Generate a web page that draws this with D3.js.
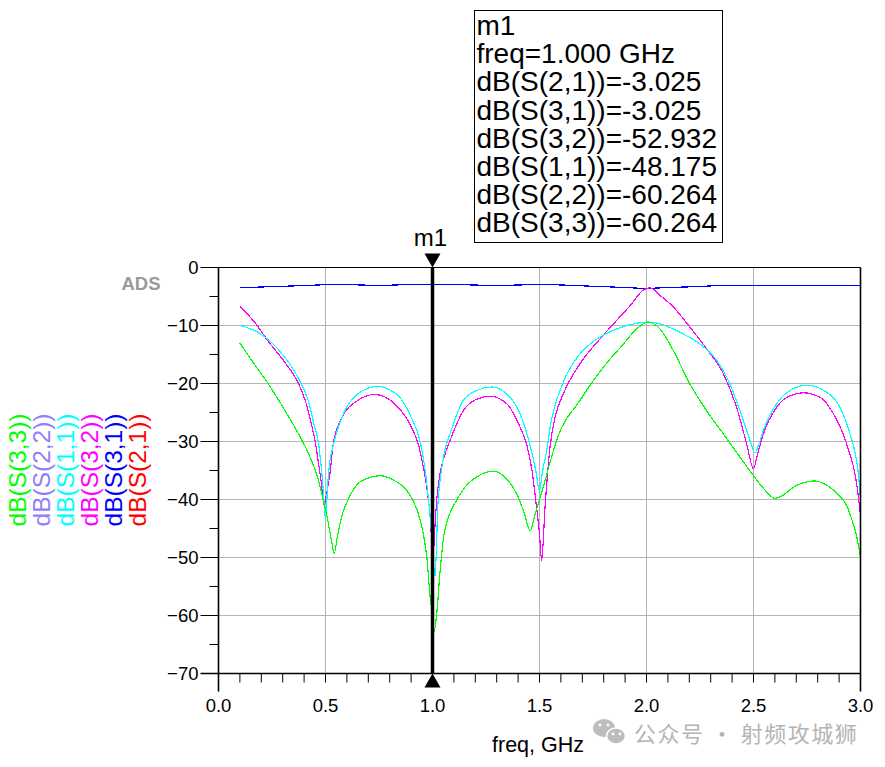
<!DOCTYPE html>
<html><head><meta charset="utf-8">
<script src="https://cdn.jsdelivr.net/npm/d3@7"></script>
<style>html,body{margin:0;padding:0;background:#fff;} svg{display:block;}</style>
</head><body>
<svg id="chart" width="885" height="767"></svg>
<script>
// ---------------- data ----------------
const s11Freq = [0.10,0.18,0.25,0.31,0.37,0.42,0.45,0.466,0.48,0.49,0.50,0.51,0.52,0.534,0.544,0.59,0.65,0.70,0.745,0.80,0.84,0.90,0.942,0.96,0.98,0.99,1.00,1.012,1.025,1.04,1.058,1.082,1.144,1.207,1.277,1.347,1.409,1.44,1.468,1.485,1.499,1.515,1.534,1.55,1.611,1.689,1.783,1.861,1.954,2.008,2.063,2.157,2.25,2.328,2.39,2.437,2.484,2.507,2.525,2.546,2.608,2.671,2.749,2.842,2.904,2.951,2.975,2.99,3.0];
const s11dB   = [-10.0,-11.1,-13.0,-15.5,-18.9,-23.0,-27.6,-30.0,-34.4,-38.5,-43.5,-37.5,-33.5,-31.0,-29.5,-24.7,-21.8,-20.8,-20.5,-21.1,-22.1,-25.8,-30.0,-33.5,-39.5,-43.5,-48.2,-53.3,-41.0,-35.5,-31.5,-28.7,-22.9,-21.2,-20.6,-21.8,-25.2,-28.5,-32.5,-35.5,-38.5,-35.0,-31.5,-27.5,-19.8,-14.9,-12.0,-10.6,-9.6,-9.4,-9.7,-11.2,-13.2,-16.0,-20.1,-24.7,-29.8,-32.0,-30.5,-28.1,-23.5,-21.2,-20.3,-21.5,-24.1,-28.7,-32.0,-35.6,-40.1];

const s32Freq = [0.10,0.17,0.232,0.309,0.371,0.41,0.434,0.451,0.465,0.48,0.493,0.505,0.521,0.536,0.574,0.652,0.73,0.823,0.901,0.934,0.948,0.965,0.979,0.995,1.00,1.008,1.02,1.035,1.06,1.082,1.144,1.207,1.27,1.347,1.409,1.44,1.465,1.485,1.50,1.51,1.526,1.549,1.575,1.611,1.689,1.783,1.861,1.923,1.985,2.016,2.063,2.125,2.203,2.281,2.359,2.421,2.468,2.50,2.52,2.546,2.608,2.671,2.733,2.811,2.873,2.935,2.982,3.0];
const s32dB   = [-6.7,-9.5,-12.7,-16.3,-19.8,-23.5,-27.0,-29.8,-33.2,-37.0,-41.0,-39.0,-35.5,-30.5,-26.1,-22.9,-21.9,-23.5,-27.5,-30.5,-32.7,-36.0,-39.6,-46.7,-52.9,-47.0,-40.0,-35.6,-32.0,-29.8,-24.7,-22.7,-22.2,-23.5,-27.5,-30.5,-35.0,-41.0,-46.0,-50.5,-41.3,-31.0,-25.5,-21.8,-16.6,-12.3,-9.1,-6.6,-3.9,-3.5,-4.8,-6.8,-10.3,-14.0,-18.3,-24.1,-30.4,-34.7,-32.0,-28.7,-24.1,-22.1,-21.6,-22.4,-25.2,-30.4,-37.3,-42.7];

const s33Freq = [0.10,0.155,0.233,0.311,0.374,0.421,0.467,0.49,0.51,0.53,0.541,0.555,0.575,0.60,0.646,0.70,0.755,0.82,0.879,0.93,0.957,0.975,0.988,1.00,1.006,1.02,1.035,1.05,1.08,1.113,1.16,1.207,1.284,1.34,1.393,1.43,1.456,1.48,1.518,1.55,1.58,1.689,1.798,1.892,1.954,2.008,2.063,2.125,2.203,2.281,2.359,2.437,2.50,2.562,2.60,2.64,2.686,2.787,2.857,2.90,2.935,2.96,2.98,3.0];
const s33dB   = [-13.05,-16.0,-20.1,-24.7,-28.7,-32.1,-36.7,-40.2,-43.5,-47.5,-49.3,-46.5,-43.0,-40.5,-37.5,-36.3,-35.9,-36.7,-38.4,-42.0,-45.9,-50.5,-56.5,-60.3,-63.0,-59.6,-52.5,-47.0,-42.5,-40.1,-37.5,-36.1,-35.1,-36.2,-39.0,-42.5,-45.4,-42.5,-37.8,-33.5,-29.8,-22.9,-17.2,-13.2,-10.6,-9.4,-10.6,-14.3,-20.1,-24.7,-28.7,-32.7,-35.9,-38.7,-39.8,-39.2,-37.9,-36.8,-37.9,-39.3,-41.0,-43.5,-46.0,-49.9];

const s31Freq = [0.10,0.165,0.27,0.41,0.53,0.65,0.75,0.84,1.00,1.17,1.30,1.42,1.50,1.59,1.66,1.78,1.90,2.00,2.10,2.25,2.35,3.00];
const s31dB   = [-3.45,-3.40,-3.28,-3.10,-2.95,-3.00,-3.10,-3.00,-2.95,-3.00,-3.10,-3.00,-2.95,-3.00,-3.10,-3.28,-3.45,-3.60,-3.45,-3.28,-3.10,-3.10];

// S21 equals S31 and S22 equals S33 (symmetric network) – drawn underneath
const s21Freq = s31Freq, s21dB = s31dB;
const s22Freq = s33Freq, s22dB = s33dB;

const legendLabels = ["dB(S(3,3))","dB(S(2,2))","dB(S(1,1))","dB(S(3,2))","dB(S(3,1))","dB(S(2,1))"];
const legendColors = ["#00ff00","#8c80ff","#00ffff","#ff00ff","#0000ff","#ff0000"];

const xMajorTicks = [0,0.5,1.0,1.5,2.0,2.5,3.0];
const xMinorTicks = d3.range(0,31).map(i=>i/10);
const yMajorTicks = [0,-10,-20,-30,-40,-50,-60,-70];
const yMinorTicks = [-5,-15,-25,-35,-45,-55,-65];

const markerFreq = 1.0;
const markerLines = ["m1","freq=1.000 GHz","dB(S(2,1))=-3.025","dB(S(3,1))=-3.025","dB(S(3,2))=-52.932","dB(S(1,1))=-48.175","dB(S(2,2))=-60.264","dB(S(3,3))=-60.264"];

// ---------------- chart ----------------
const svg = d3.select("#chart");
const FONT = "'Liberation Sans', Arial, sans-serif";
const x = d3.scaleLinear().domain([0,3]).range([218.5,860.5]);
const y = d3.scaleLinear().domain([-70,0]).range([673.5,267.5]);

// grid
const grid = svg.append("g").attr("stroke","#b4b4b4").attr("stroke-width",1).attr("shape-rendering","crispEdges");
xMajorTicks.slice(1,-1).forEach(v=>grid.append("line").attr("x1",x(v)).attr("x2",x(v)).attr("y1",y(0)).attr("y2",y(-70)));
yMajorTicks.slice(1,-1).forEach(v=>grid.append("line").attr("x1",x(0)).attr("x2",x(3)).attr("y1",y(v)).attr("y2",y(v)));

// series
const defs = svg.append("defs");
defs.append("clipPath").attr("id","plotclip").append("rect")
  .attr("x",x(0)).attr("y",y(0)).attr("width",x(3)-x(0)).attr("height",y(-70)-y(0));
const line = d3.line().x(d=>x(d[0])).y(d=>y(d[1])).curve(d3.curveMonotoneX);
const series = [
  {f:s21Freq,v:s21dB,c:"#ff0000"},
  {f:s31Freq,v:s31dB,c:"#0000ff"},
  {f:s32Freq,v:s32dB,c:"#ff00ff"},
  {f:s11Freq,v:s11dB,c:"#00ffff"},
  {f:s22Freq,v:s22dB,c:"#8c80ff"},
  {f:s33Freq,v:s33dB,c:"#00ff00"}
];
const plot = svg.append("g").attr("clip-path","url(#plotclip)");
series.forEach(s=>{
  plot.append("path").datum(s.f.map((f,i)=>[f,s.v[i]]))
    .attr("d",line).attr("fill","none").attr("stroke",s.c).attr("stroke-width",1.2)
    .attr("shape-rendering","crispEdges");
});

// frame & ticks
const ax = svg.append("g").attr("stroke","#000").attr("stroke-width",1);
ax.append("line").attr("x1",x(0)-18).attr("x2",x(3)).attr("y1",y(0)).attr("y2",y(0));
ax.append("line").attr("x1",x(0)-18).attr("x2",x(3)).attr("y1",y(-70)).attr("y2",y(-70)).attr("stroke-width",1.3);
ax.append("line").attr("x1",x(0)).attr("x2",x(0)).attr("y1",y(0)).attr("y2",y(-70)+18).attr("stroke-width",1.6);
ax.append("line").attr("x1",x(3)).attr("x2",x(3)).attr("y1",y(0)).attr("y2",y(-70)+18).attr("stroke-width",1.6);
xMinorTicks.slice(1,-1).forEach(v=>ax.append("line").attr("x1",x(v)).attr("x2",x(v)).attr("y1",y(-70)).attr("y2",y(-70)+9));
yMajorTicks.slice(1,-1).forEach(v=>ax.append("line").attr("x1",x(0)-18).attr("x2",x(0)).attr("y1",y(v)).attr("y2",y(v)));
yMinorTicks.forEach(v=>ax.append("line").attr("x1",x(0)-9).attr("x2",x(0)).attr("y1",y(v)).attr("y2",y(v)));

// tick labels
const tl = svg.append("g").attr("font-family",FONT).attr("font-size",18.5).attr("fill","#000");
yMajorTicks.forEach(v=>tl.append("text").attr("x",x(0)-20).attr("y",y(v)+6.5).attr("text-anchor","end").text(d3.format("d")(v)));
xMajorTicks.forEach(v=>tl.append("text").attr("x",x(v)).attr("y",y(-70)+38).attr("text-anchor","middle").text(d3.format(".1f")(v)));
svg.append("text").attr("x",538).attr("y",752).attr("text-anchor","middle")
  .attr("font-family",FONT).attr("font-size",21.5).text("freq, GHz");

// ADS logo
svg.append("text").attr("x",141).attr("y",290).attr("text-anchor","middle")
  .attr("font-family",FONT).attr("font-size",18.5).attr("fill","#9a9a9a").attr("font-weight","bold").text("ADS");

// legend (rotated)
legendLabels.forEach((t,i)=>{
  svg.append("text").attr("transform",`translate(${25.5+i*24},470) rotate(-90)`)
    .attr("text-anchor","middle").attr("font-family",FONT).attr("font-size",24.5)
    .attr("fill",legendColors[i]).text(t);
});

// marker
const mx = x(markerFreq);
svg.append("line").attr("x1",mx).attr("x2",mx).attr("y1",y(0)).attr("y2",y(-70))
  .attr("stroke","#000").attr("stroke-width",3.5);
svg.append("path").attr("d",`M${mx},${y(0)} L${mx-8},${y(0)-14} L${mx+8},${y(0)-14} Z`).attr("fill","#000");
svg.append("path").attr("d",`M${mx},${y(-70)} L${mx-8},${y(-70)+14} L${mx+8},${y(-70)+14} Z`).attr("fill","#000");
svg.append("text").attr("x",mx-2).attr("y",246).attr("text-anchor","middle")
  .attr("font-family",FONT).attr("font-size",24).text("m1");

// marker readout box
svg.append("rect").attr("x",474.5).attr("y",10.5).attr("width",248).attr("height",232)
  .attr("fill","#fff").attr("stroke","#000").attr("stroke-width",1);
markerLines.forEach((t,i)=>{
  svg.append("text").attr("x",476.5).attr("y",35+i*28.2)
    .attr("font-family",FONT).attr("font-size",28).text(t);
});

// watermark
const wm = svg.append("g");
wm.append("ellipse").attr("cx",604).attr("cy",728).attr("rx",11).attr("ry",9).attr("fill","#bdbdbd");
wm.append("ellipse").attr("cx",616).attr("cy",736).attr("rx",9.5).attr("ry",8).attr("fill","#bdbdbd").attr("stroke","#fff").attr("stroke-width",1.5);
[[600,725],[608,725],[613,734],[620,734]].forEach(p=>wm.append("circle").attr("cx",p[0]).attr("cy",p[1]).attr("r",1.4).attr("fill","#fff"));
wm.append("text").attr("x",634).attr("y",742).attr("font-family","'Noto Sans CJK SC', sans-serif")
  .attr("font-size",22).attr("fill","#b4b4b4").attr("letter-spacing",1.5).text("公众号 · 射频攻城狮");
</script>
</body></html>
